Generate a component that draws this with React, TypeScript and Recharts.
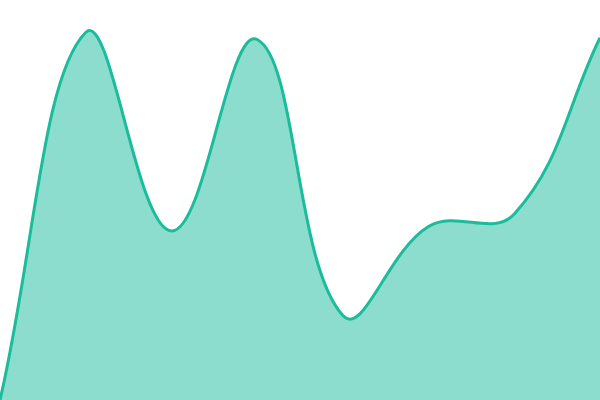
import { AreaChart, Area, XAxis, YAxis } from 'recharts';

// eight evenly spaced samples
const labels = ['A', 'B', 'C', 'D', 'E', 'F', 'G', 'H'];
const values = [0, 367.5, 169, 360.5, 84.5, 173.5, 186, 362.3];

const data = labels.map((name, i) => ({ name, value: values[i] }));

// tension spline (control points scaled by neighbour distances)
const TENSION = 0.4;

function splineCurve(context: any) {
  let pts: number[][] = [];
  let line = NaN;
  const draw = () => {
    const n = pts.length;
    if (n === 0) return;
    if (line) context.lineTo(pts[0][0], pts[0][1]);
    else context.moveTo(pts[0][0], pts[0][1]);
    const ctrl = pts.map((cur, i) => {
      const prev = pts[i - 1] ?? cur;
      const next = pts[i + 1] ?? cur;
      const d01 = Math.hypot(cur[0] - prev[0], cur[1] - prev[1]);
      const d12 = Math.hypot(next[0] - cur[0], next[1] - cur[1]);
      const sum = d01 + d12 || 1;
      const fa = (TENSION * d01) / sum;
      const fb = (TENSION * d12) / sum;
      const dx = next[0] - prev[0];
      const dy = next[1] - prev[1];
      return {
        inX: cur[0] - fa * dx,
        inY: cur[1] - fa * dy,
        outX: cur[0] + fb * dx,
        outY: cur[1] + fb * dy,
      };
    });
    for (let i = 0; i < n - 1; i++) {
      context.bezierCurveTo(
        ctrl[i].outX,
        ctrl[i].outY,
        ctrl[i + 1].inX,
        ctrl[i + 1].inY,
        pts[i + 1][0],
        pts[i + 1][1]
      );
    }
  };
  return {
    areaStart() {
      line = 0;
    },
    areaEnd() {
      line = NaN;
    },
    lineStart() {
      pts = [];
    },
    lineEnd() {
      draw();
      if (line || (line !== 0 && pts.length === 1)) context.closePath();
      line = 1 - line;
    },
    point(x: number, y: number) {
      pts.push([+x, +y]);
    },
  };
}

export default function App() {
  return (
    <div style={{ position: 'absolute', left: 0, top: 0, width: 600, height: 400, background: '#fff' }}>
      <AreaChart width={600} height={400} data={data} margin={{ top: 0, right: 0, bottom: 0, left: 0 }}>
        <XAxis dataKey="name" hide />
        <YAxis domain={[0, 400]} hide />
        <Area
          type={splineCurve as any}
          dataKey="value"
          stroke="#1abc9c"
          strokeWidth={3}
          fill="#1abc9c"
          fillOpacity={0.5}
          dot={false}
          activeDot={false}
          isAnimationActive={false}
        />
      </AreaChart>
    </div>
  );
}
